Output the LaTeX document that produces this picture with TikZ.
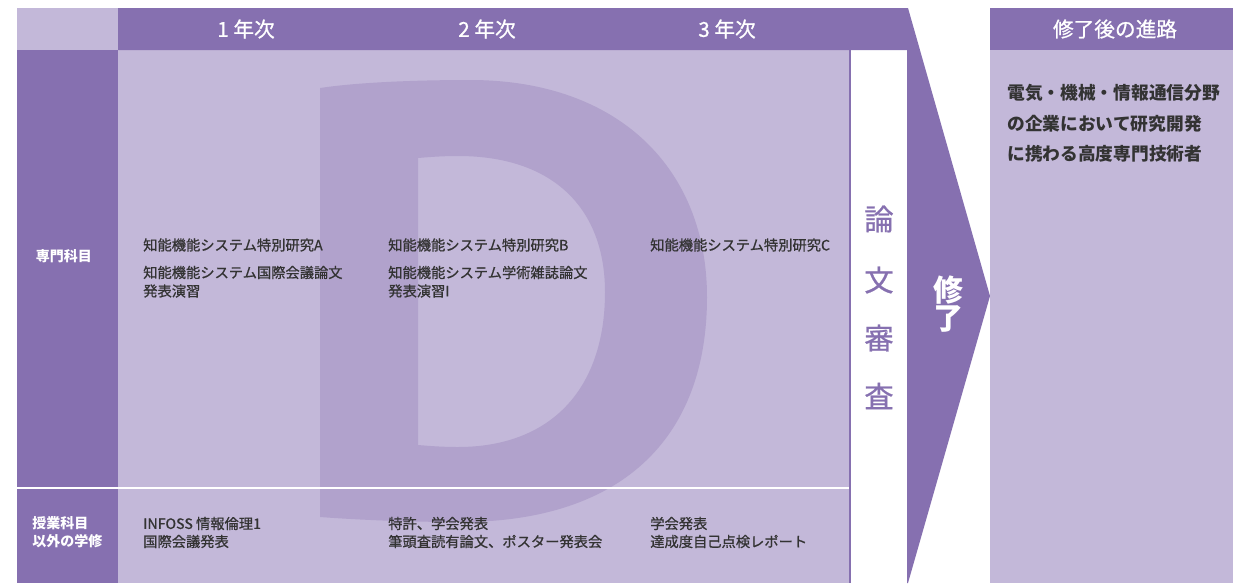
\documentclass[tikz,border=0pt]{standalone}
\usepackage{fontspec}
\newfontfamily\jp{Noto Sans CJK JP}
\newfontfamily\jpm[FakeBold=0.8]{Noto Sans CJK JP}
\definecolor{dark}{HTML}{8670B0}
\definecolor{light}{HTML}{C3B8D9}
\definecolor{dshape}{HTML}{B1A2CC}
\definecolor{textgray}{HTML}{333333}
\tikzset{
  body/.style={anchor=west, inner sep=0, text=textgray, font=\jpm\fontsize{10.7}{12}\selectfont},
  colhead/.style={inner sep=0, text=white, font=\jpm\fontsize{15.5}{17}\selectfont},
  sidelabel/.style={inner sep=0, text=white, font=\jp\bfseries\fontsize{10.5}{12}\selectfont},
  career/.style={anchor=west, inner sep=0, text=textgray, font=\jp\bfseries\fontsize{13.3}{15}\selectfont},
  thesis/.style={inner sep=0, text=dark, font=\jpm\fontsize{22}{24}\selectfont},
  finish/.style={inner sep=0, text=white, align=center, font=\jp\bfseries\fontsize{22.5}{20.5}\selectfont}
}
\begin{document}
\begin{tikzpicture}[x=0.75pt,y=-0.75pt]
\useasboundingbox (0,0) rectangle (1233,583);
\fill[white] (0,0) rectangle (1233,583);
% left column
\fill[light] (17,8) rectangle (118,50);
\fill[dark] (17,50) rectangle (118,583);
% main body
\fill[light] (118,50) rectangle (849,583);
% big D
\fill[dshape, even odd rule]
  (320,88) .. controls (360,82) and (420,80) .. (470,80)
  .. controls (620,80) and (707,170) .. (707,297)
  .. controls (707,440) and (620,522) .. (460,522)
  .. controls (410,522) and (360,520) .. (320,517) -- cycle
  (418,158) .. controls (430,157) and (442,156) .. (458,156)
  .. controls (555,156) and (605,210) .. (605,292)
  .. controls (605,390) and (550,447) .. (458,447)
  .. controls (442,447) and (430,446) .. (418,445) -- cycle;
% row separator
\draw[white, line width=1.5] (17,487.5) -- (849,487.5);
% thin border before thesis column
\fill[dark] (848.5,50) rectangle (851,583);
% header band + arrow
\fill[dark] (118,8) -- (908,8) -- (990,296) -- (908,583) -- (907,583) -- (907,50) -- (118,50) -- cycle;
% career box
\fill[dark] (990,8) rectangle (1233,50);
\fill[light] (990,50) rectangle (1233,583);

% headers
\node[colhead] (y1) at (246,29) {1 年次};
\node[colhead] (y2) at (487,29) {2 年次};
\node[colhead] (y3) at (727,29) {3 年次};
\node[colhead] (career) at (1115,29) {修了後の進路};

% side labels
\node[sidelabel] (senmon) at (64,256.5) {専門科目};
\node[sidelabel, anchor=west] (other1) at (32,523.5) {授業科目};
\node[sidelabel, anchor=west] (other2) at (32,541.5) {以外の学修};

% year 1
\node[body] (a1) at (143,245) {知能機能システム特別研究A};
\node[body] (a2) at (143,272.5) {知能機能システム国際会議論文};
\node[body] (a3) at (143,291) {発表演習};
\node[body] (a4) at (143,523.5) {INFOSS 情報倫理1};
\node[body] (a5) at (143,541.5) {国際会議発表};
% year 2
\node[body] (b1) at (388,245) {知能機能システム特別研究B};
\node[body] (b2) at (388,272.5) {知能機能システム学術雑誌論文};
\node[body] (b3) at (388,291) {発表演習I};
\node[body] (b4) at (388,523.5) {特許、学会発表};
\node[body] (b5) at (388,541.5) {筆頭査読有論文、ポスター発表会};
% year 3
\node[body] (c1) at (650,245) {知能機能システム特別研究C};
\node[body] (c4) at (650,523.5) {学会発表};
\node[body] (c5) at (650,541.5) {達成度自己点検レポート};

% thesis review
\node[thesis] (t1) at (879,219) {論};
\node[thesis] (t2) at (879,280) {文};
\node[thesis] (t3) at (879,338) {審};
\node[thesis] (t4) at (879,396) {査};

% completion
\node[finish] (fin) at (948,304) {修\\了};

% career text
\node[career] (r1) at (1007,93) {電気・機械・情報通信分野};
\node[career] (r2) at (1007,123.5) {の企業において研究開発};
\node[career] (r3) at (1007,154) {に携わる高度専門技術者};
\end{tikzpicture}
\end{document}
